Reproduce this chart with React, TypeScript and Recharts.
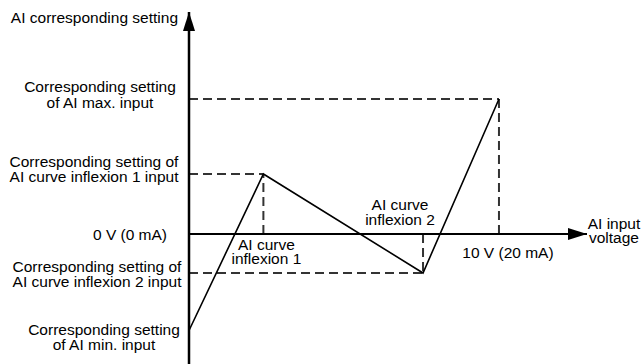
import React from 'react';
import { LineChart, Line, XAxis, YAxis, ReferenceLine, ReferenceDot } from 'recharts';

// AI input as % of full scale (10 V = 100), setting as % of max setting
const inputPct = [0, 24, 75.5, 100];
const settingPct = [-71.5, 44.4, -28.9, 100];

// axis extents (arrow tips / bottom edge), same units as above
const inputMax = 128.4;
const settingMax = 164.4;
const settingMin = -96.3;

// left side labels, one per y tick
const settingTicks = [100, 44.4, 0, -28.9, -71.5];
const settingLabels = [
  ['Corresponding setting', 'of AI max. input'],
  ['Corresponding setting of', 'AI curve inflexion 1 input'],
  ['0 V (0 mA)'],
  ['Corresponding setting of', 'AI curve inflexion 2 input'],
  ['Corresponding setting', 'of AI min. input'],
];

const yTitle = 'AI corresponding setting';
const inflexion1Label = ['AI curve', 'inflexion 1'];
const inflexion2Label = ['AI curve', 'inflexion 2'];
const fullScaleLabel = ['10 V (20 mA)'];
const xTitle = ['AI input', 'voltage'];

const data = inputPct.map((x, i) => ({ x, y: settingPct[i] }));

const font = '"Liberation Sans", Arial, sans-serif';
const fontSize = 15.5;
const dashColor = '#333';
const dash = '9 5';

// where each left label sits: text centre x (px) and first baseline offset from tick y
const tickLayout: Record<string, { cx: number; dy: number; lh: number }> = {
  '100': { cx: 100, dy: -7, lh: 16 },
  '44.4': { cx: 94, dy: -7, lh: 15 },
  '0': { cx: 130, dy: 6, lh: 15 },
  '-28.9': { cx: 97, dy: -1, lh: 15 },
  '-71.5': { cx: 104, dy: 4.5, lh: 15 },
};

const SettingTick = (props: any) => {
  const { y, payload } = props;
  const idx = settingTicks.indexOf(payload.value);
  const lines = settingLabels[idx] || [];
  const lay = tickLayout[String(payload.value)];
  return (
    <text x={lay.cx} y={y + lay.dy} textAnchor="middle" fontFamily={font} fontSize={fontSize} fill="#000">
      {lines.map((l, i) => (
        <tspan key={i} x={lay.cx} dy={i === 0 ? 0 : lay.lh}>
          {l}
        </tspan>
      ))}
    </text>
  );
};

const textShape = (lines: string[], dx: number, dy: number, lh: number, anchor = 'middle') => (props: any) => {
  const { cx, cy } = props;
  return (
    <text x={cx + dx} y={cy + dy} textAnchor={anchor} fontFamily={font} fontSize={fontSize} fill="#000">
      {lines.map((l, i) => (
        <tspan key={i} x={cx + dx} dy={i === 0 ? 0 : lh}>
          {l}
        </tspan>
      ))}
    </text>
  );
};

const UpArrow = (props: any) => {
  const { cx, cy } = props;
  return (
    <g>
      <polygon points={`${cx},${cy} ${cx - 6},${cy + 19} ${cx + 6},${cy + 19}`} fill="#000" />
      <text x={cx - 11} y={cy + 11} textAnchor="end" fontFamily={font} fontSize={fontSize} fill="#000">
        {yTitle}
      </text>
    </g>
  );
};

const RightArrow = (props: any) => {
  const { cx, cy } = props;
  return <polygon points={`${cx},${cy} ${cx - 19},${cy - 6} ${cx - 19},${cy + 6}`} fill="#000" />;
};

export default function App() {
  return (
    <div style={{ position: 'absolute', left: 0, top: 0, background: '#fff' }}>
      <LineChart width={641} height={364} data={data} margin={{ top: 12, right: 54, bottom: 0, left: 0 }}>
        <XAxis dataKey="x" type="number" domain={[0, inputMax]} hide allowDataOverflow />
        <YAxis
          type="number"
          domain={[settingMin, settingMax]}
          ticks={settingTicks}
          width={189}
          axisLine={false}
          tickLine={false}
          tick={<SettingTick />}
          allowDataOverflow
          interval={0}
        />

        {/* dashed guides */}
        <ReferenceLine segment={[{ x: 0, y: 100 }, { x: 100, y: 100 }]} stroke={dashColor} strokeWidth={2} strokeDasharray={dash} />
        <ReferenceLine segment={[{ x: 100, y: 0 }, { x: 100, y: 100 }]} stroke={dashColor} strokeWidth={2} strokeDasharray={dash} />
        <ReferenceLine segment={[{ x: 0, y: 44.4 }, { x: 24, y: 44.4 }]} stroke={dashColor} strokeWidth={2} strokeDasharray={dash} />
        <ReferenceLine segment={[{ x: 24, y: 0 }, { x: 24, y: 44.4 }]} stroke={dashColor} strokeWidth={2} strokeDasharray={dash} />
        <ReferenceLine segment={[{ x: 0, y: -28.9 }, { x: 75.5, y: -28.9 }]} stroke={dashColor} strokeWidth={2} strokeDasharray={dash} />
        <ReferenceLine segment={[{ x: 75.5, y: 0 }, { x: 75.5, y: -28.9 }]} stroke={dashColor} strokeWidth={2} strokeDasharray={dash} />

        {/* axes */}
        <ReferenceLine x={0} stroke="#000" strokeWidth={2.5} />
        <ReferenceLine y={0} stroke="#000" strokeWidth={2} />
        <ReferenceDot x={0} y={settingMax} r={0} ifOverflow="visible" shape={<UpArrow />} />
        <ReferenceDot x={inputMax} y={0} r={0} ifOverflow="visible" shape={<RightArrow />} />

        <Line dataKey="y" stroke="#000" strokeWidth={1.6} dot={false} isAnimationActive={false} />

        {/* annotations */}
        <ReferenceDot x={24} y={0} r={0} ifOverflow="visible" shape={textShape(inflexion1Label, 3, 16, 14)} />
        <ReferenceDot x={75.5} y={0} r={0} ifOverflow="visible" shape={textShape(inflexion2Label, -23, -24, 15)} />
        <ReferenceDot x={100} y={0} r={0} ifOverflow="visible" shape={textShape(fullScaleLabel, 9, 24, 15)} />
        <ReferenceDot x={inputMax} y={0} r={0} ifOverflow="visible" shape={textShape(xTitle, 27, -5, 14)} />
      </LineChart>
    </div>
  );
}
